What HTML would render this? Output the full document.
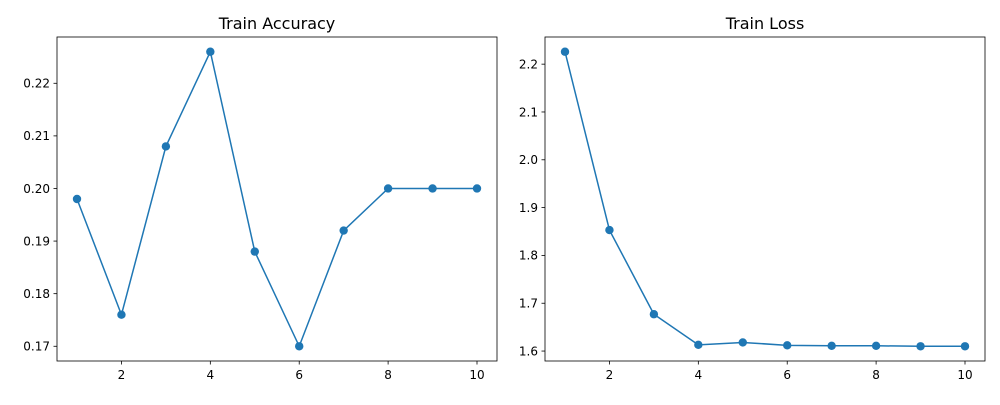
<!DOCTYPE html>
<html><head><meta charset="utf-8"><style>
body{margin:0;background:#fff;}
svg text{font-family:"DejaVu Sans","Liberation Sans",sans-serif;fill:#000;}
</style></head><body>
<svg id="c" width="1000" height="400" xmlns="http://www.w3.org/2000/svg"></svg>
<script>
const epochs=[1,2,3,4,5,6,7,8,9,10];
const accuracy=[0.198,0.176,0.208,0.226,0.188,0.170,0.192,0.200,0.200,0.200];
const loss=[2.226,1.853,1.677,1.613,1.618,1.612,1.611,1.611,1.610,1.610];
const xTicks=[2,4,6,8,10];
const accTicks=[0.17,0.18,0.19,0.20,0.21,0.22];
const lossTicks=[1.6,1.7,1.8,1.9,2.0,2.1,2.2];
const NS="http://www.w3.org/2000/svg";
const svg=document.getElementById('c');
function mk(t,a,p){const e=document.createElementNS(NS,t);for(const k in a)e.setAttribute(k,a[k]);(p||svg).appendChild(e);return e;}
function panel(name,title,x0,x1,vals,ticks,dec){
  const y0=37,y1=361;
  const g=mk('g',{});
  
  
  const xmin=1-0.45,xmax=10+0.45;
  const vmin=Math.min(...vals),vmax=Math.max(...vals),m=(vmax-vmin)*0.05;
  const lo=vmin-m,hi=vmax+m;
  const X=v=>x0+(v-xmin)/(xmax-xmin)*(x1-x0);
  const Y=v=>y1-(v-lo)/(hi-lo)*(y1-y0);
  xTicks.forEach(t=>{mk('line',{x1:X(t),x2:X(t),y1:y1,y2:y1+3.5,stroke:'#000','stroke-width':0.8},g);
    const tx=mk('text',{x:X(t),y:y1+18,'font-size':12,'text-anchor':'middle'},g);tx.textContent=t;
    });
  ticks.forEach(t=>{mk('line',{x1:x0-3.5,x2:x0,y1:Y(t),y2:Y(t),stroke:'#000','stroke-width':0.8},g);
    const tx=mk('text',{x:x0-7,y:Y(t)+4.3,'font-size':12,'text-anchor':'end'},g);tx.textContent=t.toFixed(dec);
    });
  const pts=epochs.map((e,i)=>X(e)+','+Y(vals[i])).join(' ');
  const pl=mk('polyline',{points:pts,fill:'none',stroke:'#1f77b4','stroke-width':1.5},g);
  
  epochs.forEach((e,i)=>{const c=mk('circle',{cx:X(e),cy:Y(vals[i]),r:4.2,fill:'#1f77b4'},g);
    });
  mk('rect',{x:x0,y:y0,width:x1-x0,height:y1-y0,fill:'none',stroke:'#000','stroke-width':0.8},g);
  const tt=mk('text',{x:(x0+x1)/2,y:y0-8,'font-size':16,'text-anchor':'middle'},g);tt.textContent=title;
  
}
panel('accuracy','Train Accuracy',57,497,accuracy,accTicks,2);
panel('loss','Train Loss',545,985,loss,lossTicks,1);
</script>
</body></html>
